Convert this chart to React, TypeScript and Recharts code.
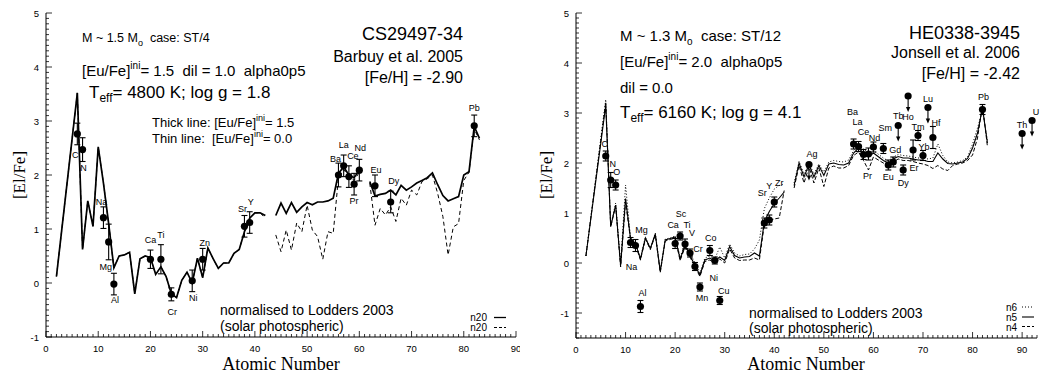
import React from 'react';
import { ComposedChart, Line, Scatter, XAxis, YAxis, ErrorBar } from 'recharts';

const SANS = "'Liberation Sans', Arial, Helvetica, sans-serif";
const SERIF = "'Liberation Serif', 'Times New Roman', serif";

// ---------- Tick labels ----------
const xMajorLeft = [0, 10, 20, 30, 40, 50, 60, 70, 80, 90];
const yMajorLeft = [-1, 0, 1, 2, 3, 4, 5];
const xMajorRight = [0, 10, 20, 30, 40, 50, 60, 70, 80, 90];
const yMajorRight = [-1, 0, 1, 2, 3, 4, 5];

// ---------- Left panel: CS29497-34 ----------
const leftThick: [number, number | null][] = [
  [2, 0.12], [6, 3.52], [7, 0.62], [8, 1.52], [9, 1.05], [10, 2.52], [11, 1.85], [12, 1.1], [13, 0.28],
  [14, 0.5], [15, 0.52], [16, 0.57], [17, -0.2], [18, 0.45], [19, 0.5], [20, 0.47], [21, 0.16], [22, 0.3],
  [23, 0.12], [24, -0.2], [25, -0.27], [26, 0.05], [27, 0.2], [28, 0.0], [29, 0.46], [30, 0.1], [31, 0.65],
  [32, 0.45], [33, 0.27], [34, 0.37], [35, 0.37], [36, 0.55], [37, 0.62], [38, 0.95], [39, 1.2], [40, 1.3],
  [41, 1.3], [42, 1.25], [43, null], [44, 1.25], [45, 1.48], [46, 1.29], [47, 1.49], [48, 1.31], [49, 1.41],
  [50, 1.49], [51, 1.45], [52, 1.5], [53, 1.5], [54, 1.52], [55, 1.57], [56, 2.03], [57, 2.15], [58, 2.0],
  [59, 1.95], [60, 2.09], [61, null], [62, 1.88], [63, 1.61], [64, 1.64], [65, 1.66], [66, 1.72], [67, 1.63],
  [68, 1.81], [69, 1.72], [70, 1.78], [71, 1.85], [72, 1.9], [73, 1.95], [74, 2.04], [75, 1.82], [76, 1.62],
  [77, 1.52], [78, 1.56], [79, 1.6], [80, 2.0], [81, 2.06], [82, 2.9], [83, 2.68],
];
const leftThin: [number, number | null][] = [
  [2, 0.12], [6, 3.52], [7, 0.62], [8, 1.52], [9, 1.05], [10, 2.52], [11, 1.85], [12, 1.1], [13, 0.28],
  [14, 0.5], [15, 0.52], [16, 0.57], [17, -0.2], [18, 0.45], [19, 0.5], [20, 0.47], [21, 0.16], [22, 0.3],
  [23, 0.12], [24, -0.2], [25, -0.27], [26, 0.05], [27, 0.2], [28, 0.0], [29, 0.46], [30, 0.1], [31, 0.65],
  [32, 0.45], [33, 0.27], [34, 0.37], [35, 0.37], [36, 0.55], [37, 0.62], [38, 0.95], [39, 1.2], [40, 1.3],
  [41, 1.3], [42, 1.2], [43, null], [44, 0.89], [45, 0.58], [46, 0.98], [47, 0.61], [48, 1.11], [49, 0.95],
  [50, 1.44], [51, 0.98], [52, 0.86], [53, 0.44], [54, 0.95], [55, 0.92], [56, 1.95], [57, 2.1], [58, 1.98],
  [59, 1.9], [60, 2.05], [61, null], [62, 1.85], [63, 1.07], [64, 1.38], [65, 1.26], [66, 1.41], [67, 1.14],
  [68, 1.57], [69, 1.44], [70, 1.72], [71, 1.63], [72, 1.88], [73, 1.93], [74, 2.0], [75, 1.66], [76, 1.23],
  [77, 0.52], [78, 1.04], [79, 1.1], [80, 1.9], [81, 2.05], [82, 2.85], [83, 2.65],
];
const leftObs = [
  { el: 'C', z: 6, v: 2.76, err: 0.2 }, { el: 'N', z: 7, v: 2.47, err: 0.22 },
  { el: 'Na', z: 11, v: 1.21, err: 0.2 }, { el: 'Mg', z: 12, v: 0.76, err: 0.33 },
  { el: 'Al', z: 13, v: -0.02, err: 0.2 }, { el: 'Ca', z: 20, v: 0.44, err: 0.17 },
  { el: 'Ti', z: 22, v: 0.44, err: 0.27 }, { el: 'Cr', z: 24, v: -0.21, err: 0.12 },
  { el: 'Ni', z: 28, v: 0.04, err: 0.2 }, { el: 'Zn', z: 30, v: 0.44, err: 0.2 },
  { el: 'Sr', z: 38, v: 1.05, err: 0.2 }, { el: 'Y', z: 39, v: 1.12, err: 0.2 },
  { el: 'Ba', z: 56, v: 2.0, err: 0.22 }, { el: 'La', z: 57, v: 2.17, err: 0.2 },
  { el: 'Ce', z: 58, v: 1.97, err: 0.2 }, { el: 'Pr', z: 59, v: 1.83, err: 0.2 },
  { el: 'Nd', z: 60, v: 2.09, err: 0.2 }, { el: 'Eu', z: 63, v: 1.8, err: 0.2 },
  { el: 'Dy', z: 66, v: 1.5, err: 0.2 }, { el: 'Pb', z: 82, v: 2.91, err: 0.2 },
];

// ---------- Right panel: HE0338-3945 ----------
const rightN6: [number, number | null][] = [
  [2, 0.14], [6, 3.27], [7, 0.75], [8, 1.2], [9, -0.02], [10, 1.56], [11, 0.5], [12, 0.42], [13, 0.1],
  [14, 0.52], [15, 0.3], [16, 0.6], [17, -0.15], [18, 0.48], [19, 0.5], [20, 0.54], [21, 0.12], [22, 0.38],
  [23, 0.2], [24, 0.0], [25, -0.2], [26, 0.1], [27, 0.14], [28, 0.08], [29, 0.32], [30, 0.1], [31, 0.38],
  [32, 0.2], [33, 0.14], [34, 0.17], [35, 0.18], [36, 0.28], [37, 0.46], [38, 1.09], [39, 1.3], [40, 1.48],
  [41, 1.55], [42, 1.58], [43, null], [44, 1.6], [45, 2.03], [46, 1.78], [47, 2.0], [48, 1.78], [49, 1.98],
  [50, 1.82], [51, 2.02], [52, 2.05], [53, 2.03], [54, 2.02], [55, 2.06], [56, 2.25], [57, 2.35], [58, 2.28],
  [59, 2.2], [60, 2.25], [62, 2.1], [63, 2.04], [64, 2.12], [65, 2.17], [66, 2.15], [67, 2.14], [68, 2.12],
  [69, 2.1], [70, 2.1], [71, 2.08], [72, 2.1], [73, 2.38], [74, 2.15], [75, 2.02], [76, 2.0], [77, 2.02],
  [78, 2.05], [79, 2.12], [80, 2.38], [81, 2.7], [82, 3.05], [83, 2.45],
];
const rightN5: [number, number | null][] = [
  [2, 0.14], [6, 3.15], [7, 0.73], [8, 1.16], [9, -0.05], [10, 1.29], [11, 0.49], [12, 0.39], [13, 0.08],
  [14, 0.5], [15, 0.29], [16, 0.58], [17, -0.17], [18, 0.46], [19, 0.49], [20, 0.52], [21, 0.08], [22, 0.35],
  [23, 0.15], [24, -0.05], [25, -0.24], [26, 0.06], [27, 0.1], [28, 0.04], [29, 0.12], [30, 0.05], [31, 0.33],
  [32, 0.15], [33, 0.1], [34, 0.12], [35, 0.13], [36, 0.2], [37, 0.14], [38, 0.83], [39, 1.03], [40, 1.19],
  [41, 1.3], [42, 1.42], [43, null], [44, 1.55], [45, 2.0], [46, 1.72], [47, 1.97], [48, 1.72], [49, 1.95],
  [50, 1.75], [51, 1.98], [52, 2.0], [53, 1.97], [54, 1.96], [55, 2.0], [56, 2.2], [57, 2.3], [58, 2.2],
  [59, 2.12], [60, 2.2], [62, 2.05], [63, 2.0], [64, 2.08], [65, 2.13], [66, 2.1], [67, 2.1], [68, 2.08],
  [69, 2.06], [70, 2.06], [71, 2.03], [72, 2.03], [73, 2.2], [74, 2.08], [75, 1.99], [76, 1.98], [77, 2.0],
  [78, 2.02], [79, 2.09], [80, 2.3], [81, 2.6], [82, 3.1], [83, 2.4],
];
const rightN4: [number, number | null][] = [
  [2, 0.14], [6, 3.22], [7, 0.72], [8, 1.14], [9, -0.08], [10, 1.22], [11, 0.47], [12, 0.37], [13, 0.06],
  [14, 0.48], [15, 0.27], [16, 0.56], [17, -0.19], [18, 0.44], [19, 0.47], [20, 0.5], [21, 0.05], [22, 0.32],
  [23, 0.12], [24, -0.08], [25, -0.27], [26, 0.03], [27, 0.06], [28, 0.0], [29, 0.08], [30, 0.0], [31, 0.28],
  [32, 0.1], [33, 0.05], [34, 0.06], [35, 0.06], [36, 0.1], [37, 0.06], [38, 0.78], [39, 0.85], [40, 0.88],
  [41, 0.9], [42, 1.45], [43, null], [44, 1.5], [45, 1.95], [46, 1.6], [47, 1.92], [48, 1.6], [49, 1.9],
  [50, 1.53], [51, 1.9], [52, 1.94], [53, 1.9], [54, 1.9], [55, 1.95], [56, 2.15], [57, 2.22], [58, 2.05],
  [59, 1.86], [60, 2.12], [62, 2.0], [63, 1.95], [64, 2.02], [65, 2.08], [66, 2.05], [67, 2.05], [68, 2.03],
  [69, 2.0], [70, 1.98], [71, 1.95], [72, 1.89], [73, 1.95], [74, 1.88], [75, 1.85], [76, 1.95], [77, 1.98],
  [78, 2.0], [79, 2.05], [80, 2.16], [81, 2.5], [82, 3.16], [83, 2.33],
];
const rightObs = [
  { el: 'C', z: 6, v: 2.14, err: 0.1 }, { el: 'N', z: 7, v: 1.66, err: 0.15 },
  { el: 'O', z: 8, v: 1.56, err: 0.1 }, { el: 'Na', z: 11, v: 0.41, err: 0.1 },
  { el: 'Mg', z: 12, v: 0.35, err: 0.12 }, { el: 'Al', z: 13, v: -0.87, err: 0.12 },
  { el: 'Ca', z: 20, v: 0.39, err: 0.1 }, { el: 'Sc', z: 21, v: 0.54, err: 0.08 },
  { el: 'Ti', z: 22, v: 0.38, err: 0.1 }, { el: 'V', z: 23, v: 0.2, err: 0.08 },
  { el: 'Cr', z: 24, v: -0.07, err: 0.08 }, { el: 'Mn', z: 25, v: -0.48, err: 0.08 },
  { el: 'Co', z: 27, v: 0.25, err: 0.1 }, { el: 'Ni', z: 28, v: 0.05, err: 0.07 },
  { el: 'Cu', z: 29, v: -0.75, err: 0.08 }, { el: 'Sr', z: 38, v: 0.8, err: 0.1 },
  { el: 'Y', z: 39, v: 0.86, err: 0.1 }, { el: 'Zr', z: 40, v: 1.22, err: 0.1 },
  { el: 'Ba', z: 56, v: 2.38, err: 0.1 }, { el: 'La', z: 57, v: 2.33, err: 0.1 },
  { el: 'Ce', z: 58, v: 2.17, err: 0.1 }, { el: 'Pr', z: 59, v: 2.18, err: 0.12 },
  { el: 'Nd', z: 60, v: 2.32, err: 0.1 }, { el: 'Sm', z: 62, v: 2.29, err: 0.1 },
  { el: 'Eu', z: 63, v: 1.96, err: 0.1 }, { el: 'Gd', z: 64, v: 2.02, err: 0.1 },
  { el: 'Dy', z: 66, v: 1.86, err: 0.1 }, { el: 'Er', z: 68, v: 2.26, err: 0.2 },
  { el: 'Tm', z: 69, v: 2.55, err: 0.1 }, { el: 'Yb', z: 70, v: 2.15, err: 0.1 },
  { el: 'Hf', z: 72, v: 2.51, err: 0.22 }, { el: 'Pb', z: 82, v: 3.07, err: 0.1 },
];
const rightLimits = [
  { el: 'Ag', z: 47, v: 1.97 }, { el: 'Tb', z: 65, v: 2.75 }, { el: 'Ho', z: 67, v: 3.34 },
  { el: 'Lu', z: 71, v: 3.11 }, { el: 'Th', z: 90, v: 2.59 }, { el: 'U', z: 92, v: 2.85 },
];

// label placement (pixel offsets of the element name from its point)
const leftLabelOffsets: Record<string, [number, number]> = {
  C: [-2, 21], N: [1, 18], Na: [-2, -16], Mg: [-3, 25], Al: [1, 16], Ca: [0, -19], Ti: [0, -24],
  Cr: [1, 17], Ni: [1, 17], Zn: [2, -16], Sr: [-2, -18], Y: [1, -21], Ba: [-3, -16], La: [0, -21],
  Ce: [4, -21], Pr: [0, 17], Nd: [1, -22], Eu: [1, -16], Dy: [3, -21], Pb: [0, -18],
};
const rightLabelOffsets: Record<string, [number, number]> = {
  C: [-1, -12], N: [2, -16], O: [1, -13], Na: [1, 24], Mg: [6, -16], Al: [2, -14], Ca: [-2, -19],
  Sc: [1, -22], Ti: [2, -19], V: [2, -20], Cr: [3, -18], Mn: [2, 11], Co: [1, -13], Ni: [-1, 17],
  Cu: [4, -10], Sr: [-2, -30], Y: [0, -34], Zr: [5, -19], Ag: [3, -11], Ba: [-1, -32], La: [-1, -25],
  Ce: [0, -23], Nd: [1, -9], Pr: [-1, 22], Sm: [2, -21], Eu: [0, 12], Gd: [2, -12], Tb: [0, -10],
  Ho: [0, 21], Dy: [0, 13], Er: [1, 18], Tm: [0, -9], Yb: [1, -9], Lu: [0, -9], Hf: [3, -15],
  Pb: [1, -13], Th: [0, -9], U: [4, -9],
};

// ---------- helpers ----------
const pts = (a: [number, number | null][]) => a.map(([z, v]) => ({ z, v }));
const isMajor = (v: number, step: number) => Math.abs(v / step - Math.round(v / step)) < 1e-6;
const steps = (a: number, b: number, s: number) => {
  const out: number[] = [];
  const n = Math.round((b - a) / s);
  for (let i = 0; i <= n; i++) out.push(Math.round((a + i * s) * 10) / 10);
  return out;
};

const mkTick = (side: 'bottom' | 'left' | 'top' | 'right', step: number, labels: number[] | null) => (p: any) => {
  const v = Number(p.payload.value);
  const major = isMajor(v, step);
  const L = major ? 6 : 3;
  const x = p.x, y = p.y;
  let ln: any = null;
  if (side === 'bottom') ln = <line x1={x} x2={x} y1={y} y2={y - L} />;
  if (side === 'top') ln = <line x1={x} x2={x} y1={y} y2={y + L} />;
  if (side === 'left') ln = <line x1={x} x2={x + L} y1={y} y2={y} />;
  if (side === 'right') ln = <line x1={x} x2={x - L} y1={y} y2={y} />;
  const showLabel = labels && labels.some((t) => Math.abs(t - v) < 1e-6);
  return (
    <g>
      <g stroke="#000" strokeWidth={0.8}>{ln}</g>
      {showLabel && side === 'bottom' && (
        <text x={x} y={y + 15} textAnchor="middle" fontSize={9.5} fontFamily={SANS} fill="#000">{v}</text>
      )}
      {showLabel && side === 'left' && (
        <text x={x - 7} y={y + 3.5} textAnchor="end" fontSize={9.5} fontFamily={SANS} fill="#000">{v}</text>
      )}
    </g>
  );
};

const mkShape = (offs: Record<string, [number, number]>, arrow: boolean) => (p: any) => {
  const { cx, cy, payload } = p;
  if (cx == null || cy == null) return <g />;
  const o = offs[payload.el] || [0, -14];
  return (
    <g>
      {arrow && (
        <g>
          <line x1={cx} y1={cy} x2={cx} y2={cy + 12} stroke="#000" strokeWidth={1.1} />
          <path d={`M${cx - 2.2},${cy + 11} L${cx},${cy + 16} L${cx + 2.2},${cy + 11} Z`} fill="#000" />
        </g>
      )}
      <circle cx={cx} cy={cy} r={3.6} fill="#000" />
      <text x={cx + o[0]} y={cy + o[1] + 3.2} textAnchor="middle" fontSize={9} fontFamily={SANS} fill="#000">
        {payload.el}
      </text>
    </g>
  );
};

const axisLine = { stroke: '#000', strokeWidth: 1 };

function Panel(props: {
  width: number; yWidth: number; xMax: number; yMin: number; bottomH: number;
  xLabels: number[]; yLabels: number[]; children: React.ReactNode;
}) {
  const { width, yWidth, xMax, yMin, bottomH, xLabels, yLabels, children } = props;
  const xt = steps(0, xMax, 1);
  const yt = steps(yMin, 5, 0.1);
  return (
    <ComposedChart width={width} height={377} margin={{ top: 13, right: 4, bottom: 0, left: 0 }}>
      <XAxis dataKey="z" type="number" domain={[0, xMax]} ticks={xt} interval={0}
        tickSize={0} tickMargin={0} tickLine={false} height={bottomH} axisLine={axisLine}
        tick={mkTick('bottom', 10, xLabels)} />
      <XAxis xAxisId="top" orientation="top" type="number" domain={[0, xMax]} allowDataOverflow ticks={xt}
        interval={0} tickSize={0} tickMargin={0} tickLine={false} height={0} axisLine={axisLine}
        tick={mkTick('top', 10, null)} />
      <YAxis type="number" domain={[yMin, 5]} ticks={yt} interval={0} tickSize={0}
        tickMargin={0} tickLine={false} width={yWidth} axisLine={axisLine} tick={mkTick('left', 1, yLabels)} />
      <YAxis yAxisId="right" orientation="right" type="number" domain={[yMin, 5]} allowDataOverflow ticks={yt}
        interval={0} tickSize={0} tickMargin={0} tickLine={false} width={0} axisLine={axisLine}
        tick={mkTick('right', 1, null)} />
      {children}
    </ComposedChart>
  );
}

export default function App() {
  return (
    <div style={{ position: 'absolute', left: 0, top: 0, width: 1041, height: 377, background: '#fff' }}>
      <div style={{ position: 'absolute', left: 0, top: 0 }}>
        <Panel width={520} yWidth={46} xMax={90} yMin={-1} bottomH={40} xLabels={xMajorLeft} yLabels={yMajorLeft}>
          <Line data={pts(leftThin)} dataKey="v" stroke="#000" strokeWidth={1} strokeDasharray="4 3"
            dot={false} isAnimationActive={false} connectNulls={false} />
          <Line data={pts(leftThick)} dataKey="v" stroke="#000" strokeWidth={1.7}
            dot={false} isAnimationActive={false} connectNulls={false} />
          <Scatter data={leftObs} dataKey="v" shape={mkShape(leftLabelOffsets, false)} isAnimationActive={false}>
            <ErrorBar dataKey="err" direction="y" width={3} stroke="#000" strokeWidth={1.1} />
          </Scatter>
        </Panel>
      </div>
      <div style={{ position: 'absolute', left: 520, top: 0 }}>
        <Panel width={521} yWidth={56} xMax={93} yMin={-1.5} bottomH={39} xLabels={xMajorRight} yLabels={yMajorRight}>
          <Line data={pts(rightN6)} dataKey="v" stroke="#000" strokeWidth={1} strokeDasharray="1 2"
            dot={false} isAnimationActive={false} connectNulls={false} />
          <Line data={pts(rightN4)} dataKey="v" stroke="#000" strokeWidth={1} strokeDasharray="4 2"
            dot={false} isAnimationActive={false} connectNulls={false} />
          <Line data={pts(rightN5)} dataKey="v" stroke="#000" strokeWidth={1.1}
            dot={false} isAnimationActive={false} connectNulls={false} />
          <Scatter data={rightObs} dataKey="v" shape={mkShape(rightLabelOffsets, false)} isAnimationActive={false}>
            <ErrorBar dataKey="err" direction="y" width={3} stroke="#000" strokeWidth={1.1} />
          </Scatter>
          <Scatter data={rightLimits} dataKey="v" shape={mkShape(rightLabelOffsets, true)} isAnimationActive={false} />
        </Panel>
      </div>
      <svg width={1041} height={377} style={{ position: 'absolute', left: 0, top: 0, pointerEvents: 'none' }}
        fontFamily={SANS} fill="#000">
        {/* left annotations */}
        <text x={82} y={42} fontSize={12.5}>M ~ 1.5 M<tspan fontSize={9} dy={4}>o</tspan><tspan dy={-4}>{'\u00a0\u00a0case: ST/4'}</tspan></text>
        <text x={82} y={76} fontSize={15}>[Eu/Fe]<tspan fontSize={10} dy={-7}>ini</tspan><tspan dy={7}>{'= 1.5\u00a0\u00a0dil = 1.0\u00a0\u00a0alpha0p5'}</tspan></text>
        <text x={89} y={98} fontSize={17}>T<tspan fontSize={12} dy={4}>eff</tspan><tspan dy={-4}>= 4800 K; log g = 1.8</tspan></text>
        <text x={152} y={127} fontSize={13}>Thick line: [Eu/Fe]<tspan fontSize={9} dy={-6}>ini</tspan><tspan dy={6}>= 1.5</tspan></text>
        <text x={152} y={143} fontSize={13}>{'Thin line:\u00a0\u00a0[Eu/Fe]'}<tspan fontSize={9} dy={-6}>ini</tspan><tspan dy={6}>= 0.0</tspan></text>
        <text x={463} y={40} fontSize={18} textAnchor="end">CS29497-34</text>
        <text x={463} y={62} fontSize={16} textAnchor="end">Barbuy et al. 2005</text>
        <text x={463} y={83} fontSize={16} textAnchor="end">[Fe/H] = -2.90</text>
        <text x={220} y={315} fontSize={14}>normalised to Lodders 2003</text>
        <text x={220} y={331} fontSize={14}>(solar photospheric)</text>
        <text x={487} y={321} fontSize={10} textAnchor="end">n20</text>
        <text x={487} y={331} fontSize={10} textAnchor="end">n20</text>
        <line x1={494} x2={506} y1={317.5} y2={317.5} stroke="#000" strokeWidth={1.3} />
        <line x1={494} x2={506} y1={327.5} y2={327.5} stroke="#000" strokeWidth={1} strokeDasharray="3 2" />
        <text transform="translate(25,175) rotate(-90)" textAnchor="middle" fontSize={17} fontFamily={SERIF}>[El/Fe]</text>
        <text x={281} y={370} textAnchor="middle" fontSize={18} fontFamily={SERIF}>Atomic Number</text>

        {/* right annotations */}
        <text x={620} y={41} fontSize={15}>M ~ 1.3 M<tspan fontSize={10} dy={4}>o</tspan><tspan dy={-4}>{'\u00a0\u00a0case: ST/12'}</tspan></text>
        <text x={620} y={67} fontSize={15}>[Eu/Fe]<tspan fontSize={10} dy={-7}>ini</tspan><tspan dy={7}>{'= 2.0\u00a0\u00a0alpha0p5'}</tspan></text>
        <text x={620} y={93} fontSize={15}>dil = 0.0</text>
        <text x={620} y={118} fontSize={17}>T<tspan fontSize={12} dy={4}>eff</tspan><tspan dy={-4}>= 6160 K; log g = 4.1</tspan></text>
        <text x={1020} y={39} fontSize={18} textAnchor="end">HE0338-3945</text>
        <text x={1020} y={58} fontSize={16} textAnchor="end">Jonsell et al. 2006</text>
        <text x={1020} y={79} fontSize={16} textAnchor="end">[Fe/H] = -2.42</text>
        <text x={749} y={318} fontSize={14}>normalised to Lodders 2003</text>
        <text x={749} y={333} fontSize={14}>(solar photospheric)</text>
        <text x={1017} y={311} fontSize={10} textAnchor="end">n6</text>
        <text x={1017} y={321} fontSize={10} textAnchor="end">n5</text>
        <text x={1017} y={330.5} fontSize={10} textAnchor="end">n4</text>
        <line x1={1022} x2={1034} y1={307} y2={307} stroke="#000" strokeWidth={1} strokeDasharray="1 2" />
        <line x1={1022} x2={1034} y1={317} y2={317} stroke="#000" strokeWidth={1.1} />
        <line x1={1022} x2={1034} y1={326.5} y2={326.5} stroke="#000" strokeWidth={1} strokeDasharray="3 2" />
        <text transform="translate(552,175) rotate(-90)" textAnchor="middle" fontSize={17} fontFamily={SERIF}>[El/Fe]</text>
        <text x={806} y={370} textAnchor="middle" fontSize={18} fontFamily={SERIF}>Atomic Number</text>
      </svg>
    </div>
  );
}
